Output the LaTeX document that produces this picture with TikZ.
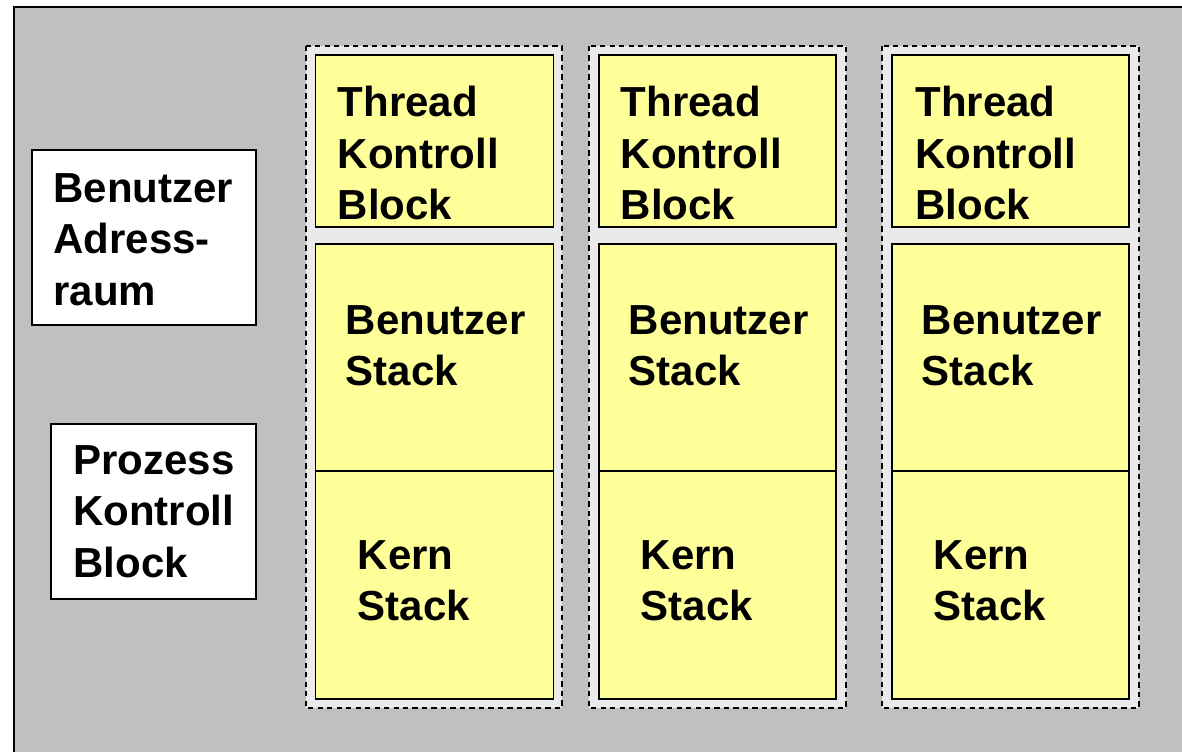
\documentclass[tikz,border=0pt]{standalone}
\usepackage{fontspec}
\setmainfont{Liberation Sans}
\usepackage{xcolor}
\usetikzlibrary{calc}
\definecolor{panelgray}{RGB}{192,192,192}
\definecolor{stripgray}{RGB}{234,234,234}
\definecolor{noteyellow}{RGB}{255,255,153}
\tikzset{
  block text/.style={anchor=north west, align=left, inner sep=0pt,
    font=\fontsize{23.9pt}{29.3pt}\selectfont\bfseries},
  thread group/.style={draw=black, line width=0.95pt,
    dash pattern=on 3pt off 2.4pt, fill=stripgray},
  thread box/.style={draw=black, line width=1.1pt, fill=noteyellow},
  space box/.style={draw=black, line width=1.1pt, fill=white},
}
\begin{document}
\begin{tikzpicture}[x=0.02cm, y=-0.02cm]

%%%%%%%%%%%%%%%%%%%%%%%%%%%%%%%%%%%%%%%%%%%%%%%%%%%%%%%%%%%%%% Setup
\useasboundingbox (0,0) rectangle (1182,751);
\clip (0,0) rectangle (1182,751);
\draw[line width=1.1pt, fill=panelgray] (14,7) rectangle (1200,770);

\coordinate (C1) at (306,46);
\coordinate (C2) at (589,46);
\coordinate (C3) at (882,46);

%%%%%%%%%%%%%%%%%%%%%%%%%%%%%%%%%%%%%%%%%%%%%%%%%%%%%%%%%%%%%% Prozess

\draw[space box] (32,150) rectangle (256,325);
\node[block text] (adressraum) at (53,173) {Benutzer\\Adress-\\raum};

\draw[space box] (51,424) rectangle (256,599);
\node[block text] (pkb) at (73,445) {Prozess\\Kontroll\\Block};

%%%%%%%%%%%%%%%%%%%%%%%%%%%%%%%%%%%%%%%%%%%%%%%%%%%%%%%%%%%%%% Thread-1

\draw[thread group] ($(C1)+(0,0)$) rectangle ($(C1)+(256,662)$);
\draw[thread box] ($(C1)+(9.5,9)$) rectangle ($(C1)+(247.5,181)$);
\node[block text] (tkb1) at ($(C1)+(31.5,40)$) {Thread\\Kontroll\\Block};
\draw[thread box] ($(C1)+(9.5,198)$) rectangle ($(C1)+(247.5,653)$);
\draw[thread box] ($(C1)+(9.5,425)$) -- ($(C1)+(247.5,425)$);
\node[block text] (ustack1) at ($(C1)+(39.5,259)$) {Benutzer\\Stack};
\node[block text] (kstack1) at ($(C1)+(51.5,494)$) {Kern\\Stack};

%%%%%%%%%%%%%%%%%%%%%%%%%%%%%%%%%%%%%%%%%%%%%%%%%%%%%%%%%%%%%% Thread-2

\draw[thread group] ($(C2)+(0,0)$) rectangle ($(C2)+(257,662)$);
\draw[thread box] ($(C2)+(10,9)$) rectangle ($(C2)+(247,181)$);
\node[block text] (tkb2) at ($(C2)+(31.5,40)$) {Thread\\Kontroll\\Block};
\draw[thread box] ($(C2)+(10,198)$) rectangle ($(C2)+(247,653)$);
\draw[thread box] ($(C2)+(10,425)$) -- ($(C2)+(247,425)$);
\node[block text] (ustack2) at ($(C2)+(39.5,259)$) {Benutzer\\Stack};
\node[block text] (kstack2) at ($(C2)+(51.5,494)$) {Kern\\Stack};

%%%%%%%%%%%%%%%%%%%%%%%%%%%%%%%%%%%%%%%%%%%%%%%%%%%%%%%%%%%%%% Thread-3

\draw[thread group] ($(C3)+(0,0)$) rectangle ($(C3)+(257,662)$);
\draw[thread box] ($(C3)+(10,9)$) rectangle ($(C3)+(247,181)$);
\node[block text] (tkb3) at ($(C3)+(33,40)$) {Thread\\Kontroll\\Block};
\draw[thread box] ($(C3)+(10,198)$) rectangle ($(C3)+(247,653)$);
\draw[thread box] ($(C3)+(10,425)$) -- ($(C3)+(247,425)$);
\node[block text] (ustack3) at ($(C3)+(39.5,259)$) {Benutzer\\Stack};
\node[block text] (kstack3) at ($(C3)+(51.5,494)$) {Kern\\Stack};

\end{tikzpicture}
\end{document}
